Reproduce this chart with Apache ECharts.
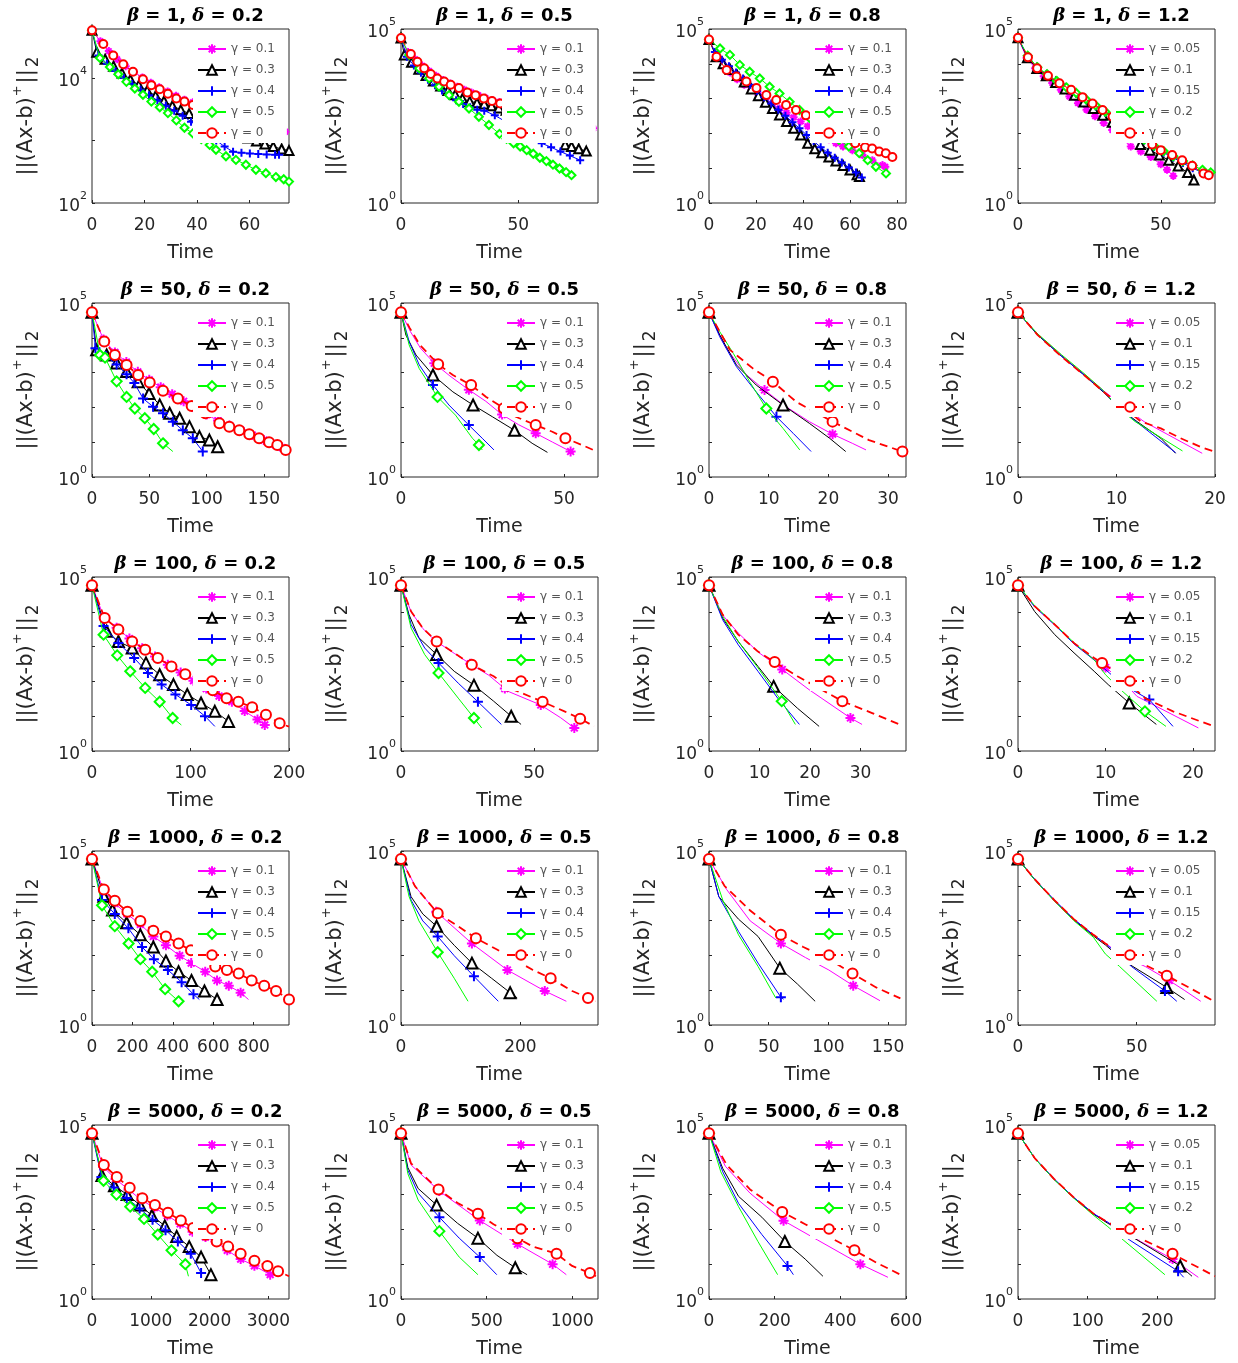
<!DOCTYPE html>
<html><head><meta charset="utf-8">
<script src="https://cdn.jsdelivr.net/npm/echarts@6/dist/echarts.min.js"></script>
<style>html,body{margin:0;padding:0;background:#fff}#c{width:1238px;height:1363px}</style>
</head><body><div id="c"></div>
<script>
// ---------- labels ----------
const betaLabels = ['1', '50', '100', '1000', '5000'];
const deltaLabels = ['0.2', '0.5', '0.8', '1.2'];
const gammaLabelsA = ['γ = 0.1', 'γ = 0.3', 'γ = 0.4', 'γ = 0.5', 'γ = 0'];
const gammaLabelsB = ['γ = 0.05', 'γ = 0.1\u200b', 'γ = 0.15', 'γ = 0.2', 'γ = 0'];
const xMax = [75, 84, 83.8, 69, 172, 60.4, 33, 20, 200, 74, 39, 22.5, 975, 330, 165, 83, 3350, 1150, 600, 283];
const xInterval = [20, 50, 20, 50, 50, 50, 10, 10, 100, 50, 10, 10, 200, 200, 50, 50, 1000, 500, 200, 100];
const yMin = [100, 1, 1, 1, 1, 1, 1, 1, 1, 1, 1, 1, 1, 1, 1, 1, 1, 1, 1, 1];
const yMax = [6.1e4, 1e5, 1e5, 1e5, 1e5, 1e5, 1e5, 1e5, 1e5, 1e5, 1e5, 1e5, 1e5, 1e5, 1e5, 1e5, 1e5, 1e5, 1e5, 1e5];
const yTickExponents = [[2, 4], [0, 5], [0, 5], [0, 5], [0, 5], [0, 5], [0, 5], [0, 5], [0, 5], [0, 5], [0, 5], [0, 5], [0, 5], [0, 5], [0, 5], [0, 5], [0, 5], [0, 5], [0, 5], [0, 5]];

// ---------- data: each panel = [γ1 (magenta), γ2 (black), γ3 (blue), γ4 (green), γ=0 (red)] ----------
// points: [time, residual, markerFlag]  (row beta=1: marker at every point)
const b1_d02 = [
 [[0,5.8e4],[3.2,3.9e4],[6.4,2.7e4],[9.6,2.0e4],[12.8,1.55e4],[16,1.25e4],[19.2,1.02e4],[22.4,8.4e3],[25.6,7.1e3],[28.8,6.1e3],[32,5.2e3],[35.2,4.5e3],[38.4,4.1e3],[41.6,3.7e3],[44.8,3.3e3],[48,3.0e3],[51.2,2.75e3],[54.4,2.5e3],[57.6,2.3e3],[60.8,2.05e3],[64,1.86e3],[67.2,1.7e3],[70.4,1.5e3],[73.6,1.38e3]],
 [[0,5.8e4],[1.8,2.6e4],[5,2.0e4],[8.2,1.55e4],[11.4,1.2e4],[14.6,9.5e3],[17.8,7.7e3],[21,6.3e3],[24.2,5.2e3],[27.4,4.3e3],[30.6,3.6e3],[33.8,3.1e3],[37,2.7e3],[40.2,2.4e3],[43.4,2.1e3],[46.6,1.85e3],[49.8,1.6e3],[53,1.4e3],[56.2,1.25e3],[59.4,1.1e3],[62.6,980],[65.8,880],[69,800],[72.2,730],[75,690]],
 [[0,5.8e4],[2.5,2.3e4],[5.7,1.7e4],[8.9,1.3e4],[12.1,1.0e4],[15.3,8.0e3],[18.5,6.5e3],[21.7,5.3e3],[24.9,4.4e3],[28.1,3.6e3],[31.3,3.0e3],[34.5,2.5e3],[37.7,2.0e3],[40.9,1.6e3],[44.1,1.3e3],[47.3,1.0e3],[50.5,800],[53.7,660],[56.9,640],[60.1,620],[63.3,610],[66.5,600],[69.7,590],[71.2,590]],
 [[0,5.8e4],[3,2.1e4],[6.8,1.5e4],[10,1.15e4],[13.1,8.7e3],[16.3,6.8e3],[19.4,5.4e3],[22.6,4.2e3],[25.8,3.4e3],[28.9,2.75e3],[32.1,2.1e3],[35.2,1.6e3],[38.4,1.3e3],[41.6,1.05e3],[44.8,850],[47.2,710],[51,560],[54.8,490],[58.6,410],[62.4,340],[66.2,300],[70,260],[73,240],[75,220]],
 [[0,5.8e4],[4.3,3.5e4],[8.1,2.3e4],[11.9,1.66e4],[15.6,1.26e4],[19.4,9.6e3],[22.6,7.7e3],[25.8,6.6e3],[28.9,5.6e3],[32.1,4.7e3],[35.2,4.2e3],[38.4,3.7e3],[41.6,3.3e3],[44.8,2.9e3],[48,2.6e3],[51.2,2.3e3],[54.4,2.1e3],[57.6,1.9e3],[60.8,1.7e3],[64,1.55e3],[67.2,1.4e3],[70.4,1.3e3]]
];
const b1_d05 = [
 [[0,5.5e4],[3,2.2e4],[6,1.35e4],[9,8.9e3],[12,6.2e3],[15,4.5e3],[18,3.4e3],[21,2.7e3],[24,2.2e3],[27,1.8e3],[30,1.5e3],[33,1.25e3],[36,1.05e3],[39,900],[42,800],[45,700],[48,600],[51,530],[54,460],[57,410],[60,360],[63,320],[66,290],[69,260],[72,230],[75,200],[78,170],[82,140]],
 [[0,5.5e4],[1.4,1.8e4],[4.5,1.1e4],[7.6,7e3],[10.7,4.6e3],[13.8,3.2e3],[16.9,2.3e3],[20,1.7e3],[23.1,1.3e3],[26.2,1.0e3],[29.3,830],[32.4,760],[35.5,700],[38.6,620],[41.7,540],[44.8,460],[47.9,390],[51,320],[54.1,260],[57.2,210],[60.3,160],[63.4,120],[66.5,85],[70,47],[72.7,42],[75.8,36],[79,31]],
 [[0,5.5e4],[2.5,1.6e4],[5.5,9e3],[8.5,5.5e3],[11.5,3.5e3],[14.5,2.4e3],[17.5,1.7e3],[20.5,1.2e3],[23.5,900],[26.5,700],[29.5,560],[32.5,480],[35.5,450],[40,330],[45,210],[50,132],[55,83],[60,52],[64,40],[68,30],[72,23],[76.4,17]],
 [[0,5.5e4],[3.5,1.8e4],[7.8,7.4e3],[12,3.8e3],[16.2,2.2e3],[20.5,1.26e3],[24.7,810],[29,520],[33.2,300],[37.5,174],[42,97],[45,70],[48,52],[50.8,42],[53.6,33],[56.4,26],[59.2,20],[62,16],[64.8,12.6],[67.6,9.8],[70.4,7.7],[72.7,6.3]],
 [[0,5.5e4],[4.2,1.9e4],[7,1.15e4],[9.9,7.4e3],[12.7,5.1e3],[15.5,3.8e3],[18.4,3.1e3],[21.2,2.5e3],[24.7,2.0e3],[28.3,1.5e3],[31.8,1.25e3],[35.3,1.0e3],[38.8,850],[42.3,720],[45.8,610],[49.3,520],[52.8,440],[56.3,370],[59.8,310],[63.3,260],[66.8,220],[70.3,185]]
];
const b1_d08 = [
 [[0,5e4],[3,1.8e4],[6,9.5e3],[9,5.6e3],[12,3.6e3],[15,2.5e3],[18,1.8e3],[21,1.3e3],[24,950],[27,700],[30,520],[33,390],[36,290],[39,220],[42,160],[45,120],[48,90],[51,68],[54,52],[57,42],[61,33],[65.3,24],[69.5,17],[73.8,12.3],[75,11]],
 [[0,5e4],[3,1.6e4],[6,1.0e4],[9,6.9e3],[12,4.6e3],[15,3.0e3],[18,1.9e3],[21,1.2e3],[24,780],[27,520],[30,340],[33,220],[36,140],[39,90],[42,52],[45,36],[48,28],[51,21],[54,16],[57,12],[60,8.9],[63,6.5],[64,5.8]],
 [[0,5e4],[2.5,2.2e4],[5.5,1.3e4],[8.5,8.5e3],[11.5,5.6e3],[14.5,3.8e3],[17.5,2.5e3],[20.5,1.65e3],[23.5,1.1e3],[26.5,720],[29.5,480],[32.5,320],[35.5,210],[38.5,140],[41.5,90],[44.5,60],[47.5,40],[50.5,28],[53.5,20],[56.5,14.5],[59.5,10.5],[62.5,7.5],[65,5.4]],
 [[0,5e4],[4.7,2.75e4],[8.9,1.8e4],[13.1,9.3e3],[17.3,5.9e3],[21.6,3.8e3],[25.8,2.2e3],[30,1.4e3],[34.3,810],[38.5,470],[42.7,280],[46.9,170],[51.1,105],[55.3,65],[59.5,42],[63.9,27],[67.5,17],[71,11],[75.3,7.1]],
 [[0,5e4],[3.2,1.6e4],[7.5,6.6e3],[11.7,4.3e3],[15.9,3.1e3],[20.2,2.0e3],[24.4,1.26e3],[28.6,910],[32.8,660],[37,470],[41.2,330],[45.4,230],[49.6,160],[53.8,110],[58,75],[62.2,52],[66.4,40],[69.4,37],[72.4,30],[75.2,27],[78,21]]
];
const b1_d12 = [
 [[0,5.6e4],[3,1.5e4],[6,7.5e3],[9,4.4e3],[12,2.8e3],[15,1.8e3],[18,1.15e3],[21,740],[24,480],[27,310],[30,200],[33,125],[36,75],[39.5,42],[43,30],[46.5,21],[50,13],[52.2,9],[54.4,6]],
 [[0,5.6e4],[3.3,1.5e4],[6.6,7.3e3],[9.9,4.5e3],[13.2,2.9e3],[16.5,1.9e3],[19.8,1.25e3],[23.1,800],[26.4,520],[29.7,330],[33,210],[36.3,130],[39.6,80],[42.9,48],[46.2,33],[49.5,24],[52.8,17],[56.1,11.5],[59.4,7.5],[61.6,4.6]],
 [[0,5.6e4],[3.4,1.6e4],[6.8,7.6e3],[10.2,4.7e3],[13.6,3.0e3],[17,2.0e3],[20.4,1.35e3],[23.8,900],[27.2,590],[30.6,390],[34,250],[37.4,160],[40.8,100],[44.2,62],[47.6,40],[51,28],[54.4,20],[57.8,14],[61.2,10],[64.6,7.5],[67,6.3]],
 [[0,5.6e4],[3.4,1.7e4],[6.8,8e3],[10.2,5e3],[13.6,3.2e3],[17,2.1e3],[20.4,1.45e3],[23.8,960],[27.2,640],[30.6,420],[34,270],[37.4,170],[40.8,105],[44.2,66],[47.6,44],[51,31],[54.4,22],[57.8,16],[61.2,12],[64.6,9],[67.5,7.6]],
 [[0,5.6e4],[3.5,1.55e4],[6.7,7.4e3],[10.5,4.5e3],[14.5,2.75e3],[18.6,1.8e3],[22.6,1.1e3],[26.1,720],[29.6,470],[33.1,300],[36.6,190],[40.1,120],[43.6,75],[47,48],[50,33],[54,24],[57.5,17],[61,11.7],[65,7.1],[66.8,6.3]]
];
const b50_d02 = [
 [[0,5.4e4,1],[10,9e3,1],[20,3.8e3,1],[30,2e3,1],[40,1.05e3,1],[50,620,1],[60,380,1],[70,240,1],[80,150,1],[90,95,1],[100,62,1],[110,42,1],[120,30,1],[130,22,1],[140,16,1],[150,11.5,1],[160,8.5,1],[166,7,1]],
 [[0,5.4e4,1],[4.1,4.5e3,1],[12.8,3.2e3,1],[21.5,1.9e3,1],[30.2,1.07e3,1],[40.3,550,1],[49.8,250,1],[59.1,118,1],[67.8,68,1],[76.5,49,1],[85.1,28,1],[93.8,14.5,1],[102.5,11.5,1],[109.7,7.4,1]],
 [[0,5.4e4,1],[3,5e3,1],[12,3e3,1],[21.5,1.7e3,1],[30.2,900,1],[37,500,1],[44.6,180,1],[53.3,105,1],[62,68,1],[70.6,39,1],[79.3,22,1],[88,13,1],[96.7,5.4,1]],
 [[0,5.4e4,1],[7,3.2e3,1],[11.4,2.7e3,1],[21.5,560,1],[30.2,200,1],[37.4,93,1],[46.1,49,1],[53.9,24,1],[62,9.3,1],[70.6,5.4]],
 [[0,5.4e4,1],[10.7,7.8e3,1],[20,3.2e3,1],[30.2,1.66e3,1],[40.3,850,1],[50.4,520,1],[62,300,1],[75,180,1],[87,110,1],[99,68,1],[111.2,35,1],[119.9,28,1],[128.6,22,1],[137.3,17,1],[145.9,13,1],[154.6,10,1],[161.8,8.3,1],[169.1,6,1]]
];
const b50_d05 = [
 [[0,5.4e4,1],[2.9,1.5e4],[6,5e3],[10.2,1.86e3,1],[15,800],[20.8,320,1],[26,150],[31,62,1],[36,32],[41.3,18,1],[46.5,10],[52,5.4,1],[53,5]],
 [[0,5.4e4,1],[1.5,1.2e4],[4.6,3.2e3],[9.8,850,1],[15.9,280],[22.1,117,1],[28,54],[34.8,22,1],[40.2,9.3],[44.9,5.1]],
 [[0,5.4e4,1],[2.5,7.8e3],[5.6,1.66e3],[9.8,440,1],[14.7,117],[20.8,31,1],[24.9,13],[28.5,6]],
 [[0,5.4e4,1],[2.5,6.2e3],[5.6,1.3e3],[11.2,200,1],[16.7,60],[21.9,13],[23.9,8.3,1],[24.9,6]],
 [[0,5.4e4,1],[2.7,1.9e4],[5.8,6.2e3],[11.4,1.74e3,1],[15.9,850],[21.5,440,1],[26.1,200],[31.5,95,1],[35.2,54],[41.3,31,1],[46.4,20],[50.4,13,1],[55.5,8.3],[60,5.4]]
];
const b50_d08 = [
 [[0,5.4e4,1],[2.9,5e3],[6.3,850],[9.3,316,1],[12.9,105],[16.8,39],[20.7,17,1],[24,9.3],[26.3,6]],
 [[0,5.4e4,1],[1.8,1.2e4],[4.6,1.66e3],[7.9,440],[12.4,117,1],[16.8,35],[20.2,13],[22.9,5.4]],
 [[0,5.4e4,1],[1.8,1.07e4],[4.6,1.48e3],[7.9,280],[11.3,54,1],[14.1,18],[17.1,5.4]],
 [[0,5.4e4,1],[1.8,1.5e4],[4.1,3.5e3],[6.8,550],[9.6,93,1],[12.4,25],[15.2,6]],
 [[0,5.4e4,1],[3.5,4.5e3],[7.4,1.3e3],[10.7,550,1],[14.6,145],[20.7,39,1],[26.8,11.5],[32.4,5.4,1]]
];
const b50_d12 = [
 [[0,5.4e4,1],[2,1.25e4],[4.4,3.1e3],[6.7,900],[8.7,300],[10.8,100],[12.8,39],[18.7,4.8]],
 [[0,5.4e4,1],[2,1.2e4],[4.4,3e3],[6.7,850],[8.7,270],[10.5,85],[12.1,39],[14.5,13],[16,4.8]],
 [[0,5.4e4,1],[2,1.25e4],[4.4,3e3],[6.7,870],[8.7,280],[10.4,90],[12,39],[16,5]],
 [[0,5.4e4,1],[2,1.3e4],[4.4,3.3e3],[6.7,950],[8.7,300],[10.3,90],[11.9,39],[16.7,5.6]],
 [[0,5.4e4,1],[2,1.2e4],[4.4,2.9e3],[6.7,850],[8.7,280],[10.5,110],[12.5,39],[14.5,25],[16.5,13],[18.5,7.4],[19.9,5.4]]
];
const b100_d02 = [
 [[0,5.8e4,1],[12,7e3,1],[25,3.5e3,1],[38,1.7e3,1],[51,900,1],[64,520,1],[77,300,1],[90,180,1],[103,105,1],[116,62,1],[129,38,1],[142,26,1],[155,14,1],[168,8,1],[175.4,5.6,1]],
 [[0,5.8e4,1],[14.9,2.75e3,1],[26.8,1.4e3,1],[40.8,910,1],[54.8,340,1],[68.7,155,1],[82.7,81,1],[96.7,42,1],[110.7,24,1],[124.7,13.8,1],[138.6,7.1,1]],
 [[0,5.8e4,1],[11.7,3.9e3,1],[26.8,1.26e3,1],[42.8,470,1],[56.8,174,1],[70.7,81,1],[84.7,42,1],[100.7,21,1],[114.7,10,1],[124.7,5.1]],
 [[0,5.8e4,1],[11.7,2.2e3,1],[25.6,560,1],[38.8,195,1],[54,65,1],[68.7,26,1],[81.9,8.9,1],[90.7,5.6]],
 [[0,5.8e4,1],[12.9,6.6e3,1],[26.8,3.1e3,1],[40.8,1.4e3,1],[54,810,1],[66.8,470,1],[80.7,270,1],[94.7,160,1],[108.7,95,1],[122.6,56,1],[136.6,33,1],[148.6,26,1],[162.6,18,1],[176.6,11,1],[190.5,6.3,1],[200,5]]
];
const b100_d05 = [
 [[0,5.8e4,1],[3.8,1e4],[8.2,3.3e3],[13,1.45e3,1],[20,640],[26,320,1],[33,150],[39,62,1],[40.7,50],[52.5,21,1],[60,9],[65.1,4.6,1]],
 [[0,5.8e4,1],[3,8.3e3],[6.7,1.8e3],[13.4,590,1],[20,195],[27.4,78,1],[34.8,27],[41.4,10,1],[45.1,5.8]],
 [[0,5.8e4,1],[3.8,4.3e3],[8.9,910],[14.1,340,1],[21.5,89],[28.9,26,1],[37.7,5.8]],
 [[0,5.8e4,1],[3.8,3.4e3],[8.9,590],[14.1,174,1],[21.5,33],[27.4,8.9,1],[30.3,4.6]],
 [[0,5.8e4,1],[3.8,1.02e4],[8.2,3.4e3],[13.4,1.4e3,1],[20,660],[26.6,300,1],[34.8,140],[40,76,1],[42.2,58],[53.2,26,1],[61.4,13.8],[67.3,8.5,1],[72.5,5.1]]
];
const b100_d08 = [
 [[0,5.8e4,1],[2.7,8e3],[5.8,2.45e3],[9.7,700],[14.5,220,1],[19.8,58],[28,8.9,1],[30.3,5.8]],
 [[0,5.8e4,1],[2.7,6.6e3],[5.8,1.4e3],[9.7,270],[12.8,72,1],[17.5,17],[21.8,5.1]],
 [[0,5.8e4,1],[2.7,5.9e3],[5.8,1.12e3],[9.7,195],[13.6,33],[17.9,5.8]],
 [[0,5.8e4,1],[2.7,7.4e3],[5.8,1.4e3],[9.7,245],[14.4,27,1],[17.1,5.8]],
 [[0,5.8e4,1],[2.7,8.3e3],[5.8,2.2e3],[9.7,720],[13,360,1],[17.5,141],[26.4,27,1],[32.3,12.3],[37.7,5.8]]
];
const b100_d12 = [
 [[0,5.8e4,1],[1.9,1.4e4],[4.2,4.2e3],[6.4,1.2e3],[8.7,440],[10,250,1],[12,100],[13.6,37],[20.6,4.6]],
 [[0,5.8e4,1],[1.9,1.02e4],[4.2,2.2e3],[6.4,660],[8.7,195],[10.3,81],[12.7,24,1],[15.8,5.8]],
 [[0,5.8e4,1],[1.9,1.4e4],[4.2,4.2e3],[6.4,1.2e3],[9.1,340],[12,80],[15,30,1],[17.7,5.1]],
 [[0,5.8e4,1],[1.9,1.5e4],[4.2,4.4e3],[6.4,1.3e3],[8.7,420],[10,155],[12,50],[14.5,13.8,1],[16.9,5.1]],
 [[0,5.8e4,1],[1.9,1.45e4],[4.2,4.3e3],[6.4,1.26e3],[8.7,470],[9.6,340,1],[10.5,240],[12.5,95],[14.5,33],[17.7,13.8],[22.4,5.1]]
];
const b1000_d02 = [
 [[0,5.9e4,1],[58.6,6.9e3,1],[112.8,3.1e3,1],[172.9,1.55e3,1],[239.4,780,1],[303.6,350,1],[365.8,195,1],[433.8,98,1],[491,60,1],[560.3,34,1],[618.8,19,1],[677,13.5,1],[735.6,8.5,1],[774.5,5.4]],
 [[0,5.9e4,1],[58.6,5e3,1],[101.5,2e3,1],[171.3,870,1],[239.4,390,1],[303.6,174,1],[365.8,69,1],[428.4,34,1],[492.5,19,1],[556.6,9.5,1],[619,5.4,1]],
 [[0,5.9e4,1],[49.6,3.9e3,1],[112.8,1.55e3,1],[180,600,1],[247.7,174,1],[306.3,78,1],[375.7,38,1],[443.6,17,1],[502.2,7.6,1],[531.2,5.4]],
 [[0,5.9e4,1],[49.6,2.75e3,1],[112.8,690,1],[181.2,220,1],[239.4,78,1],[297.9,34,1],[361.9,10.7,1],[428.4,4.8,1]],
 [[0,5.9e4,1],[58.6,7.8e3,1],[112.8,3.7e3,1],[175.3,1.8e3,1],[239.4,980,1],[303.6,510,1],[365.8,350,1],[428.4,220,1],[490,140,1],[550,82,1],[610,48,1],[667.6,38,1],[725.8,30,1],[790.3,19,1],[852.3,13.5,1],[910.9,9.5,1],[975,5.4,1]]
];
const b1000_d05 = [
 [[0,5.9e4,1],[25,9e3],[59,1.8e3,1],[118.8,220,1],[178.2,38,1],[240.8,9.5,1],[277,4.8]],
 [[0,5.9e4,1],[16.8,4.9e3],[36.5,1.55e3],[59.6,690,1],[89.2,195],[118.8,60,1],[151.8,22],[182.8,8.5,1],[194.7,6]],
 [[0,5.9e4,1],[16.8,3.9e3],[36.5,980],[61.5,350,1],[89.2,98],[122.2,25,1],[163,4.8]],
 [[0,5.9e4,1],[13.5,4.9e3],[30,980],[61.5,123,1],[89.2,22],[112.3,4.8]],
 [[0,5.9e4,1],[23.3,9.8e3],[61.5,1.62e3,1],[95.8,690],[125.5,310,1],[160,150],[188,79,1],[221,38],[250.7,22,1],[286.8,9.5],[313.2,6,1],[326.3,4.8]]
];
const b1000_d08 = [
 [[0,5.9e4,1],[14.8,7.8e3],[34.5,980],[60.2,220,1],[80.7,87],[100.4,38],[120.8,13.5,1],[143.2,5]],
 [[0,5.9e4,1],[8.2,4.9e3],[24.7,1.1e3],[41.1,350],[59.3,43,1],[74.1,15],[88.9,4.8]],
 [[0,5.9e4,1],[8.2,4.9e3],[24.7,490],[41.1,60],[60.2,6.3,1],[62.5,5.5]],
 [[0,5.9e4,1],[11.5,3.9e3],[24.7,390],[41.1,48],[55.9,6]],
 [[0,5.9e4,1],[13.1,9.8e3],[34.5,1.95e3],[60.2,390,1],[79,174],[100,80],[120.2,30,1],[140,12],[160.3,5.8]]
];
const b1000_d12 = [
 [[0,5.9e4,1],[7,1.55e4],[15.3,3.9e3],[23.5,1.1e3],[31.8,390],[36.8,220],[45,90],[53.6,48],[63.7,19,1],[70,10],[77,4.8]],
 [[0,5.9e4,1],[7,1.5e4],[15.3,3.7e3],[23.5,1.05e3],[31.8,360],[36.8,200],[42,100],[48,50],[62.7,12,1],[70.2,5.4]],
 [[0,5.9e4,1],[7,1.55e4],[15.3,3.9e3],[23.5,1.1e3],[31.8,390],[36.8,220],[42,110],[47.8,48],[61.9,9.5,1],[66.9,4.8]],
 [[0,5.9e4,1],[7,1.5e4],[15.3,3.7e3],[23.5,1e3],[31.8,330],[36.8,110],[42.8,48],[58.5,4.8]],
 [[0,5.9e4,1],[7,1.55e4],[15.3,3.9e3],[23.5,1.1e3],[31.8,390],[36.8,220],[42,130],[50,70],[62.7,26,1],[72,12],[82.6,4.8]]
];
const b5000_d02 = [
 [[0,5.8e4,1],[190,6.3e3,1],[400,2.8e3,1],[620,1.4e3,1],[840,700,1],[1060,420,1],[1280,250,1],[1500,145,1],[1710,85,1],[1930,60,1],[2100,45,1],[2300,25,1],[2528,14,1],[2762,9,1],[3030,5,1]],
 [[0,5.8e4,1],[169,3.55e3,1],[382,1.8e3,1],[597,1e3,1],[817,500,1],[1018,250,1],[1238,126,1],[1440,63,1],[1653,32,1],[1855,16,1],[2022,5,1]],
 [[0,5.8e4,1],[160,3.2e3,1],[370,1.6e3,1],[590,800,1],[810,400,1],[1030,190,1],[1250,95,1],[1460,45,1],[1680,20,1],[1855,5.6,1]],
 [[0,5.8e4,1],[196,2.5e3,1],[416,1e3,1],[650,450,1],[885,200,1],[1118,71,1],[1352,25,1],[1587,10,1],[1640,4.5]],
 [[0,5.8e4,1],[201,7.1e3,1],[421,3.2e3,1],[641,1.58e3,1],[856,790,1],[1070,500,1],[1291,300,1],[1511,180,1],[1720,110,1],[1930,70,1],[2120,45,1],[2315,32,1],[2528,20,1],[2762,12.6,1],[2983,8.9,1],[3164,6.3,1],[3350,4.5]]
];
const b5000_d05 = [
 [[0,5.8e4,1],[60,7e3],[224,1.26e3,1],[460,180,1],[680,38,1],[885,10,1],[965,5]],
 [[0,5.8e4,1],[40,6e3],[100,1.5e3],[208,500,1],[330,150],[449,56,1],[560,18],[667,7.9,1],[736,5]],
 [[0,5.8e4,1],[40,5e3],[100,1.1e3],[224,224,1],[340,56],[460,16,1],[559,5]],
 [[0,5.8e4,1],[40,4e3],[100,700],[224,89,1],[340,16],[449,5]],
 [[0,5.8e4,1],[58.6,7.9e3],[219,1.4e3,1],[334,560],[449,280,1],[540,141],[680,56,1],[770,32],[908,20,1],[999,8.9],[1103,5.6,1],[1138,4.5]]
];
const b5000_d08 = [
 [[0,5.8e4,1],[50,6.5e3],[125,1.1e3],[227,178,1],[330,50],[461,10,1],[545,4.2]],
 [[0,5.8e4,1],[42,5.6e3],[90,890],[161,224],[231,45,1],[293,14],[347,4.5]],
 [[0,5.8e4,1],[42,4.5e3],[90,560],[161,71],[239,8.9,1],[257,5]],
 [[0,5.8e4,1],[36,4.5e3],[90,450],[149,45],[209,5]],
 [[0,5.8e4,1],[54,7.1e3],[125,1.41e3],[223,316,1],[293,141],[443,25,1],[509,11.2],[583,5]]
];
const b5000_d12 = [
 [[0,5.8e4,1],[24,1.12e4],[52,2.8e3],[81,800],[109,280],[129,160],[176,45],[222,14,1],[259,4.2]],
 [[0,5.8e4,1],[24,1.1e4],[52,2.7e3],[81,780],[109,270],[129,150],[171,50],[233,8.9,1],[250,4.5]],
 [[0,5.8e4,1],[24,1.12e4],[52,2.8e3],[81,800],[109,280],[129,160],[160,50],[230,6.3,1],[238,4.2]],
 [[0,5.8e4,1],[24,1.1e4],[52,2.7e3],[81,760],[109,250],[129,120],[151,50],[211,5]],
 [[0,5.8e4,1],[24,1.12e4],[52,2.8e3],[81,800],[109,280],[129,160],[150,95],[180,50],[222,20,1],[250,10],[283,4.5]]
];
const panels = [b1_d02, b1_d05, b1_d08, b1_d12, b50_d02, b50_d05, b50_d08, b50_d12,
  b100_d02, b100_d05, b100_d08, b100_d12, b1000_d02, b1000_d05, b1000_d08, b1000_d12,
  b5000_d02, b5000_d05, b5000_d08, b5000_d12];

// ---------- styling / layout ----------
const FONT = '"DejaVu Sans", "Liberation Sans", Arial, sans-serif';
const AXC = '#262626';
const COLORS = ['#ff00ff', '#000000', '#0000ff', '#00ff00', '#ff0000'];
const STAR = 'emptypath://M5 0 L5 10 M0 5 L10 5 M1.6 1.6 L8.4 8.4 M8.4 1.6 L1.6 8.4';
const PLUS = 'emptypath://M5 0 L5 10 M0 5 L10 5';
const SYMBOLS = [STAR, 'emptyTriangle', PLUS, 'emptyDiamond', 'emptyCircle'];
const gridLeft = [92, 401, 709, 1018];
const gridTop = [29, 303, 577, 851, 1125];
const GW = 197, GH = 174;

const grid = [], xAxis = [], yAxis = [], series = [], legend = [], title = [];
panels.forEach((pd, p) => {
  const r = Math.floor(p / 4), c = p % 4;
  const L = gridLeft[c], T = gridTop[r];
  const names = c === 3 ? gammaLabelsB : gammaLabelsA;
  grid.push({left: L, top: T, width: GW, height: GH, show: true, borderColor: AXC, borderWidth: 1, backgroundColor: '#fff'});
  title.push({
    text: '{g|β} = ' + betaLabels[r] + ', {g|δ} = ' + deltaLabels[c],
    left: L + GW / 2, top: T - 27, textAlign: 'center',
    textStyle: {fontSize: 18, fontWeight: 'bold', color: '#000', fontFamily: FONT,
      rich: {g: {fontSize: 18, fontWeight: 'bold', fontStyle: 'italic', fontFamily: '"DejaVu Serif", serif', color: '#000'}}}
  });
  const rem = xMax[p] / xInterval[p];
  xAxis.push({
    gridIndex: p, type: 'value', min: 0, max: xMax[p], interval: xInterval[p],
    axisLine: {show: false}, splitLine: {show: false},
    axisTick: {show: true, inside: true, length: 3, lineStyle: {color: AXC}},
    axisLabel: {fontSize: 17, color: AXC, margin: 14, fontFamily: FONT,
      formatter: (v) => String(v),
      showMinLabel: true, showMaxLabel: Math.abs(rem - Math.round(rem)) < 1e-9},
    name: 'Time', nameLocation: 'middle', nameGap: 41,
    nameTextStyle: {fontSize: 19, color: AXC, fontFamily: FONT}
  });
  const exps = yTickExponents[p];
  yAxis.push({
    gridIndex: p, type: 'log', logBase: 10, min: yMin[p], max: yMax[p],
    axisLine: {show: false}, splitLine: {show: false}, minorTick: {show: false},
    axisTick: {show: true, inside: true, length: 3, lineStyle: {color: AXC}},
    axisLabel: {
      margin: 5, color: AXC, fontFamily: FONT,
      formatter: (v) => { const e = Math.log10(v), k = Math.round(e);
        return (Math.abs(e - k) < 1e-6 && exps.indexOf(k) >= 0) ? '{b|10}{e|' + k + '}' : ''; },
      rich: {b: {fontSize: 17, color: AXC, padding: [7, 0, 0, 0], fontFamily: FONT},
             e: {fontSize: 11, color: AXC, verticalAlign: 'top', fontFamily: FONT}}
    },
    name: '{m|||(Ax-b)}{s|+}{m|||}{u|2}', nameLocation: 'middle', nameGap: 50, nameRotate: 90,
    nameTextStyle: {color: AXC, fontFamily: FONT,
      rich: {m: {fontSize: 21, color: AXC, padding: [5, 0, 5, 0], fontFamily: FONT},
             s: {fontSize: 13, color: AXC, verticalAlign: 'top', padding: [0, 2, 0, 1], fontFamily: FONT},
             u: {fontSize: 17, color: AXC, verticalAlign: 'bottom', padding: [0, 0, 0, 2], fontFamily: FONT}}}
  });
  pd.forEach((pts, s) => {
    const allMarked = r === 0;
    series.push({
      type: 'line', name: names[s], xAxisIndex: p, yAxisIndex: p,
      data: pts.map(q => (allMarked || q[2]) ? [q[0], q[1]] : {value: [q[0], q[1]], symbol: 'none'}),
      symbol: SYMBOLS[s], symbolSize: r === 0 ? (s === 1 ? 9 : 8) : (s === 1 ? 11 : 10),
      showSymbol: true, clip: true, silent: true, z: 2 + s,
      itemStyle: {color: COLORS[s]},
      lineStyle: {color: COLORS[s], width: s === 4 ? (r === 0 ? 1 : 1.8) : 1, type: s === 4 ? [8, 5] : 'solid'}
    });
  });
  legend.push({
    data: names.slice(), orient: 'vertical', left: L + (c === 3 ? 93 : 101), top: T + 10,
    itemWidth: 28, itemHeight: 12, itemGap: 9, padding: [4, 12, 4, 4],
    backgroundColor: '#fff', selectedMode: false, z: 20,
    textStyle: {fontSize: 12, color: '#555', fontFamily: FONT}
  });
});

const chart = echarts.init(document.getElementById('c'), null, {renderer: 'canvas'});
chart.setOption({animation: false, backgroundColor: '#fff', grid, xAxis, yAxis, series, legend, title});
</script>
</body></html>
